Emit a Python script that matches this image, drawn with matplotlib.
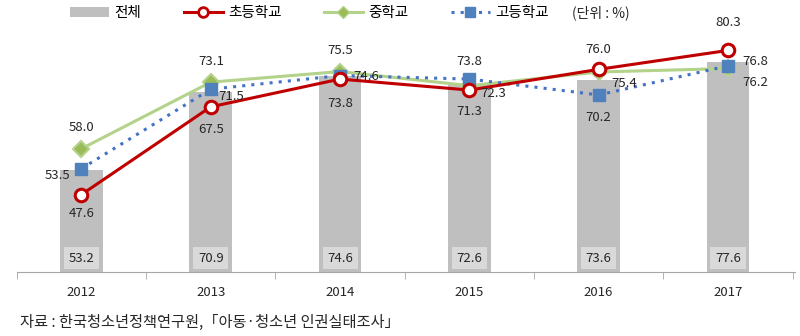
import matplotlib
matplotlib.use("Agg")
import matplotlib.pyplot as plt
import matplotlib.transforms as mtransforms
from matplotlib.patches import Patch
from matplotlib.lines import Line2D

plt.rcParams['font.family'] = ['Noto Sans CJK KR', 'DejaVu Sans']

years = ['2012', '2013', '2014', '2015', '2016', '2017']
total = [53.2, 70.9, 74.6, 72.6, 73.6, 77.6]
elementary = [47.6, 67.5, 73.8, 71.3, 76.0, 80.3]
middle = [58.0, 73.1, 75.5, 72.3, 75.4, 76.2]
high = [53.5, 71.5, 74.6, 73.8, 70.2, 76.8]

# label offsets in pixels (dx, dy) per point
elem_off = [(0, -19), (0, -23), (0, -24), (0, -21), (0, 20), (0, 28)]
mid_off = [(0, 21), (0, 21), (0, 21), (24, -8), (26, -11), (27, -14)]
high_off = [(-24, -7), (20, -7), (26, -1), (0, 18), (0, -23), (27, 4)]

fig = plt.figure(figsize=(8, 3.36), dpi=100)
ax = fig.add_axes([0.021, 0.19, 0.973, 0.761])

x = list(range(len(years)))
ax.bar(x, [v - 30 for v in total], bottom=30, width=0.33, color='#BFBFBF', zorder=1)

trans = mtransforms.blended_transform_factory(ax.transData, ax.transAxes)
for xi, v in zip(x, total):
    ax.text(xi, 0.055, f"{v:.1f}", transform=trans, ha='center', va='center',
            fontsize=9.5, color='#262626', zorder=3,
            bbox=dict(boxstyle='square,pad=0.35', fc='#D9D9D9', ec='none'))

ax.plot(x, middle, color='#B3D38A', lw=2.2, marker='D', ms=8,
        mfc='#9BBB59', mec='#B3D38A', mew=1.5, zorder=3)
ax.plot(x, high, color='#4472C4', lw=2.2, ls=(0, (1, 2)), marker='s', ms=9,
        mfc='#4F81BD', mec='#4F81BD', zorder=4)
ax.plot(x, elementary, color='#C00000', lw=2.2, marker='o', ms=9,
        mfc='white', mec='#C00000', mew=2.2, zorder=5)

for series, offs in ((elementary, elem_off), (middle, mid_off), (high, high_off)):
    for xi, v, (dx, dy) in zip(x, series, offs):
        ax.annotate(f"{v:.1f}", (xi, v), xytext=(dx, dy), textcoords='offset pixels',
                    ha='center', va='center', fontsize=9.5, color='#262626', zorder=6)

ax.set_xlim(-0.5, len(years) - 0.5 + 0.02)
ax.set_ylim(30, 88)
ax.set_yticks([])
for s in ('left', 'right', 'top'):
    ax.spines[s].set_visible(False)
ax.spines['bottom'].set_color('#A6A6A6')
ax.set_xticks(x)
ax.set_xticklabels(years, fontsize=9.5, color='#262626')
ax.tick_params(axis='x', which='major', length=0, pad=10)
ax.set_xticks([i - 0.5 for i in range(len(years) + 1)], minor=True)
ax.tick_params(axis='x', which='minor', length=5, color='#A6A6A6')

handles = [
    Patch(facecolor='#BFBFBF', edgecolor='none'),
    Line2D([], [], color='#C00000', lw=2.2, marker='o', ms=7, mfc='white', mec='#C00000', mew=2),
    Line2D([], [], color='#B3D38A', lw=2.2, marker='D', ms=6, mfc='#9BBB59', mec='#B3D38A'),
    Line2D([], [], color='#4472C4', lw=2.2, ls=(0, (1, 2)), marker='s', ms=7.5, mfc='#4F81BD', mec='#4F81BD'),
]
labels = ['전체', '초등학교', '중학교', '고등학교']
fig.legend(handles, labels, loc='center left', bbox_to_anchor=(0.0875, 0.962), ncol=4,
           frameon=False, fontsize=10.5, handlelength=2.7, handleheight=0.65,
           columnspacing=2.9, handletextpad=0.35, borderpad=0, borderaxespad=0)
fig.text(0.715, 0.962, '(단위 : %)', ha='left', va='center', fontsize=10, color='#262626')

fig.text(0.025, 0.04, '자료 : 한국청소년정책연구원,「아동·청소년 인권실태조사」',
         ha='left', va='center', fontsize=11, color='#262626')

fig.savefig('out.png', dpi=100)
